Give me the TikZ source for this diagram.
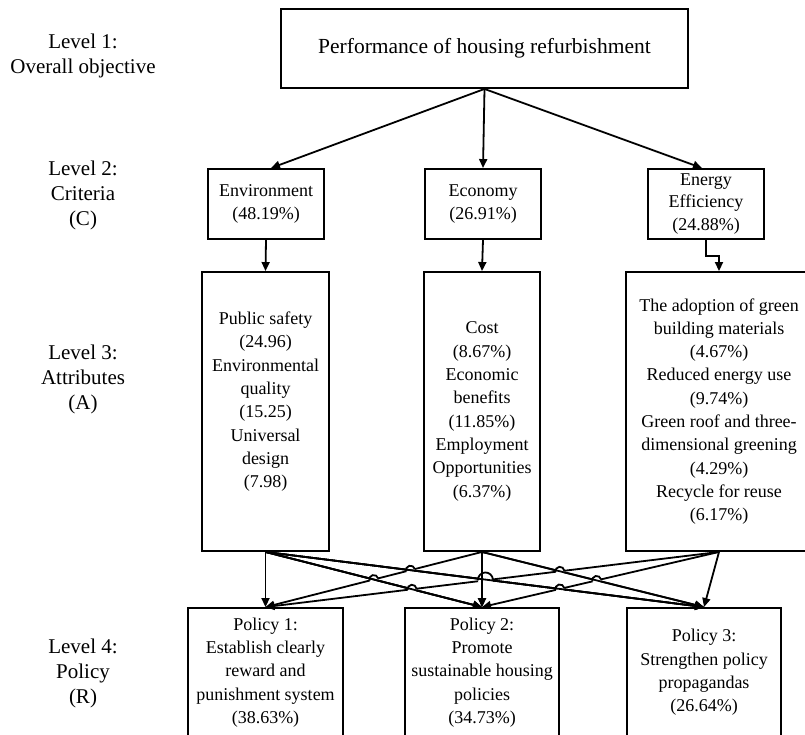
\documentclass[tikz,border=0pt]{standalone}
\usepackage{fontspec}
\setmainfont{Liberation Serif}
\usetikzlibrary{arrows.meta, calc, intersections}

% line jumps: white gap, then a small bridge over it
\newcommand{\hopgap}[2]{\fill[white] (#1) circle (#2pt);}
\newcommand{\hoparc}[3]{\draw[bridge] (#1) ++(#2+180:#3pt) arc[start angle=#2+180, delta angle=-180, radius=#3pt];}

\begin{document}
\begin{tikzpicture}[x=1pt, y=1pt, >={Triangle[length=9pt,width=8pt]},
    box/.style={draw, line width=1.9pt, rectangle, align=center, inner sep=0pt,
                font=\fontsize{18}{23.3}\selectfont},
    wire/.style={->, line width=1.8pt},
    bridge/.style={line width=1.8pt},
    level/.style={align=center, font=\fontsize{21}{25}\selectfont}]

    \useasboundingbox (0,0) rectangle (805,-735);
    \clip (0,0) rectangle (805,-735);

    % -------------------------------------------------------
    % 1. Level captions
    % -------------------------------------------------------
    \node[level] (lab1) at (83,-55.5) {Level 1:\\Overall objective};
    \node[level] (lab2) at (83,-195) {Level 2:\\Criteria\\(C)};
    \node[level] (lab3) at (83,-379) {Level 3:\\Attributes\\(A)};
    \node[level] (lab4) at (83,-673) {Level 4:\\Policy\\(R)};

    % -------------------------------------------------------
    % 2. Objective and criteria
    % -------------------------------------------------------
    \node[box, minimum width=407pt, minimum height=79pt,
          font=\fontsize{21.5}{26}\selectfont] (goal) at (484.5,-48.5)
          {Performance of housing refurbishment};

    \node[box, minimum width=116pt, minimum height=70pt] (env) at (266,-204) {Environment\\(48.19\%)};
    \node[box, minimum width=116pt, minimum height=70pt] (eco) at (483,-204) {Economy\\(26.91\%)};
    \node[box, minimum width=116pt, minimum height=70pt,
          font=\fontsize{18}{22.5}\selectfont] (ene) at (706,-204) {Energy\\Efficiency\\(24.88\%)};

    \draw[wire] (goal.south) -- ([xshift=5pt]env.north);
    \draw[wire] (goal.south) -- (eco.north);
    \draw[wire] (goal.south) -- ([xshift=-4pt]ene.north);

    % -------------------------------------------------------
    % 3. Attributes
    % -------------------------------------------------------
    \node[box, minimum width=127pt, minimum height=279pt] (envA) at (265.5,-411.5)
          {Public safety\\(24.96)\\Environmental\\quality\\(15.25)\\Universal\\design\\(7.98)\\\mbox{}};
    \node[box, minimum width=116pt, minimum height=279pt] (ecoA) at (482,-411.5)
          {Cost\\(8.67\%)\\Economic\\benefits\\(11.85\%)\\Employment\\Opportunities\\(6.37\%)};
    \node[box, minimum width=186pt, minimum height=279pt] (eneA) at (719,-411.5)
          {The adoption of green\\building materials\\(4.67\%)\\Reduced energy use\\(9.74\%)\\Green roof and three-\\dimensional greening\\(4.29\%)\\Recycle for reuse\\(6.17\%)};

    \draw[wire] (env.south) -- (envA.north);
    \draw[wire] (eco.south) -- (ecoA.north);
    \draw[wire] (ene.south) -- ++(0,-16) -| (eneA.north);

    % -------------------------------------------------------
    % 4. Policies
    % -------------------------------------------------------
    \node[box, minimum width=155pt, minimum height=129pt] (pol1) at (265.5,-672.5)
          {Policy 1:\\Establish clearly\\reward and\\punishment system\\(38.63\%)};
    \node[box, minimum width=154pt, minimum height=129pt] (pol2) at (482,-672.5)
          {Policy 2:\\Promote\\sustainable housing\\policies\\(34.73\%)};
    \node[box, minimum width=154pt, minimum height=129pt] (pol3) at (704,-672.5)
          {Policy 3:\\Strengthen policy\\propagandas\\(26.64\%)};

    % bottom layer
    \draw[wire] (envA.south) -- (pol1.north);
    \draw[wire, name path=E2] (envA.south) -- (pol2.north);
    \draw[wire, name path=E3] (envA.south) -- (pol3.north);
    \draw[wire, name path=C2] (ecoA.south) -- (pol2.north);
    \draw[wire] (eneA.south) -- (pol3.north);

    % middle layer jumps over the bottom one
    \draw[wire, name path=C1] (ecoA.south) -- (pol1.north);
    \draw[wire, name path=C3] (ecoA.south) -- (pol3.north);
    \path[name intersections={of=E2 and C1, by=h1}];
    \path[name intersections={of=E3 and C1, by=h2}];
    \hopgap{h1}{4.5} \hopgap{h2}{4.5}
    \draw[wire] (envA.south) -- (pol2.north);
    \draw[wire] (envA.south) -- (pol3.north);
    \hoparc{h1}{14.8}{4.5} \hoparc{h2}{14.8}{4.5}

    % top layer jumps over everything
    \draw[wire, name path=G1] (eneA.south) -- (pol1.north);
    \draw[wire, name path=G2] (eneA.south) -- (pol2.north);
    \path[name intersections={of=E2 and G1, by=h3}];
    \path[name intersections={of=E3 and G1, by=h4}];
    \path[name intersections={of=E3 and G2, by=h5}];
    \path[name intersections={of=C3 and G1, by=h6}];
    \path[name intersections={of=C3 and G2, by=h7}];
    \coordinate (h4b) at ([xshift=-3pt]h4);
    \hopgap{h3}{4.5} \hopgap{h4b}{7.5} \hopgap{h5}{4.5} \hopgap{h6}{4.5} \hopgap{h7}{4.5}
    \draw[wire] (envA.south) -- (pol2.north);
    \draw[wire] (envA.south) -- (pol3.north);
    \draw[wire] (ecoA.south) -- (pol2.north);
    \draw[wire] (ecoA.south) -- (pol3.north);
    \hoparc{h3}{7.2}{4.5} \hoparc{h4b}{2}{7.5} \hoparc{h5}{13.5}{4.5}
    \hoparc{h6}{7.2}{4.5} \hoparc{h7}{13.5}{4.5}
\end{tikzpicture}
\end{document}
